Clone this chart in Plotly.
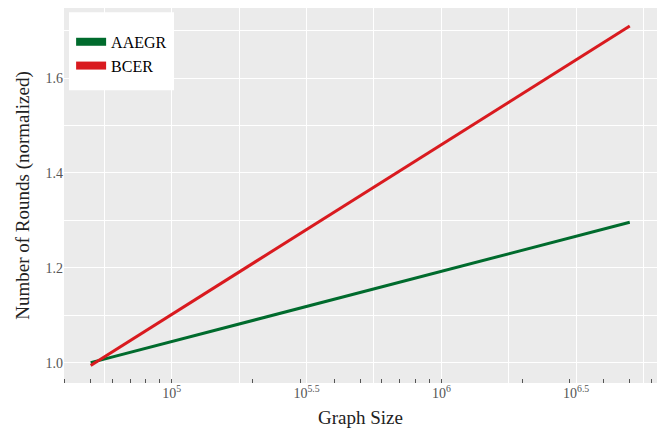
import plotly.graph_objects as go

graph_size = [5e4, 5e5, 5e6]
aaegr = [1.0, 1.148, 1.296]
bcer = [0.994, 1.352, 1.71]

x_grid_vals = [10**4.75, 1e5, 10**5.25, 10**5.5, 10**5.75, 1e6, 10**6.25, 10**6.5, 10**6.75]
x_grid_text = ["", "10<sup>5</sup>", "", "10<sup>5.5</sup>", "", "10<sup>6</sup>", "", "10<sup>6.5</sup>", ""]
y_tick_vals = [1.0, 1.2, 1.4, 1.6]
y_tick_text = ["1.0", "1.2", "1.4", "1.6"]

GREEN = "#006B2D"
RED = "#D91A1F"
FONT = "Liberation Serif"

fig = go.Figure()
for name, vals, col in [("AAEGR", aaegr, GREEN), ("BCER", bcer, RED)]:
    fig.add_trace(go.Scatter(x=graph_size, y=vals, mode="lines", line=dict(color=col, width=3),
                             legendgroup=name, showlegend=False, name=name))
    fig.add_trace(go.Scatter(x=[None], y=[None], mode="lines", line=dict(color=col, width=8),
                             legendgroup=name, showlegend=True, name=name))

# legend frame (white box behind legend entries)
fig.add_shape(type="rect", xref="paper", yref="paper", x0=0.0084, x1=0.1855, y0=0.781, y1=0.989,
              fillcolor="white", line=dict(width=0), layer="above")

fig.update_layout(
    width=664, height=443,
    margin=dict(l=64, r=7, t=8, b=60),
    paper_bgcolor="white", plot_bgcolor="#EBEBEB",
    font=dict(family=FONT, size=15, color="black"),
    legend=dict(x=0.012, y=0.955, xanchor="left", yanchor="top", bgcolor="rgba(0,0,0,0)",
                borderwidth=0, font=dict(size=16, color="black"), itemwidth=30,
                tracegroupgap=11, traceorder="normal"),
)
fig.update_xaxes(type="log", range=[4.6, 6.8], showline=False, zeroline=False, automargin=False,
                 tickmode="array", tickvals=x_grid_vals, ticktext=x_grid_text,
                 gridcolor="white", gridwidth=1.2, ticks="", tickfont=dict(size=14, color="#555555"),
                 minor=dict(dtick="D1", ticks="inside", ticklen=4, tickcolor="#555555", tickwidth=1, showgrid=False),
                 title=dict(text="Graph Size", font=dict(size=19, color="#222222"), standoff=10))
fig.update_yaxes(range=[0.957, 1.748], showline=False, zeroline=False, automargin=False,
                 tickmode="array", tickvals=y_tick_vals, ticktext=y_tick_text,
                 gridcolor="white", gridwidth=1.2, ticks="", tickfont=dict(size=14, color="#555555"),
                 minor=dict(dtick=0.1, showgrid=True, gridcolor="white", gridwidth=1.2, ticks=""),
                 title=dict(text="Number of Rounds (normalized)", font=dict(size=19, color="#222222"), standoff=10))

fig.write_html("out.html", config={"displayModeBar": False},
               post_script="document.body.style.margin='0';")
